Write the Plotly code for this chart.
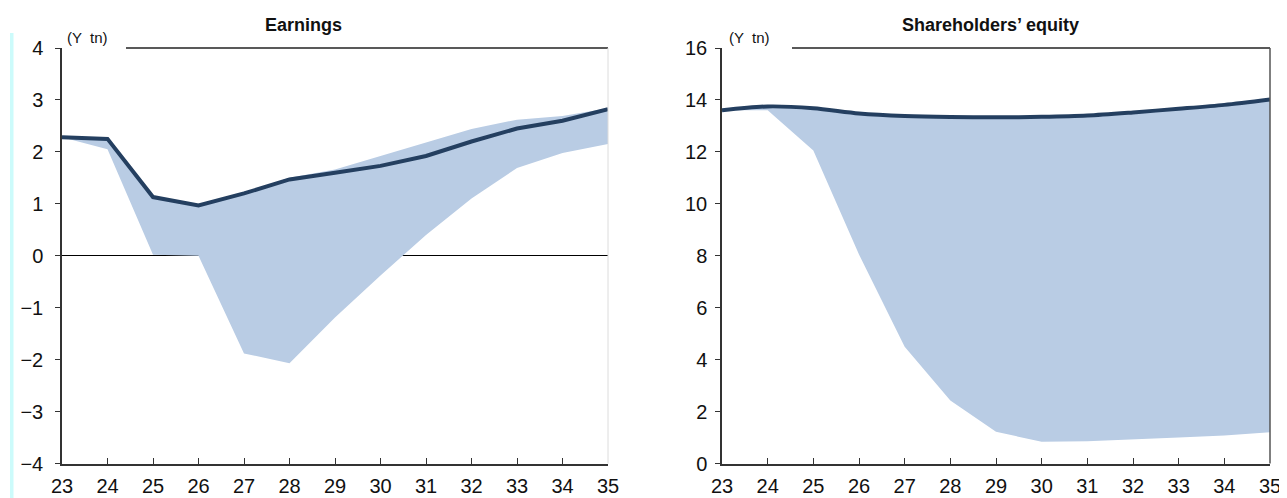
import plotly.graph_objects as go

years = list(range(2023, 2036))
year_labels = ["23", "24", "25", "26", "27", "28", "29", "30", "31", "32", "33", "34", "35"]

# Earnings (Y tn)
earn_central = [2.28, 2.25, 1.13, 0.97, 1.20, 1.47, 1.60, 1.73, 1.92, 2.20, 2.45, 2.60, 2.82]
earn_upper   = [2.30, 2.27, 1.15, 0.99, 1.22, 1.50, 1.66, 1.92, 2.17, 2.44, 2.62, 2.69, 2.84]
earn_lower   = [2.28, 2.05, 0.02, 0.00, -1.88, -2.07, -1.19, -0.38, 0.40, 1.10, 1.69, 1.98, 2.15]

# Shareholders' equity (Y tn)
eq_central = [13.60, 13.75, 13.68, 13.48, 13.38, 13.34, 13.33, 13.35, 13.40, 13.52, 13.66, 13.81, 14.02]
eq_lower   = [13.60, 13.60, 12.05, 8.05, 4.50, 2.43, 1.22, 0.84, 0.86, 0.92, 1.00, 1.08, 1.20]

earn_yticks = [4, 3, 2, 1, 0, -1, -2, -3, -4]
earn_yticklabels = ["4", "3", "2", "1", "0", "−1", "−2", "−3", "−4"]
eq_yticks = [0, 2, 4, 6, 8, 10, 12, 14, 16]

FILL = "#b9cce4"
LINE = "#243f60"
TICKFONT = dict(family="Liberation Sans Narrow, Liberation Sans, Arial, sans-serif", size=20, color="#111111")

W, H = 1287, 498
OFF = 8  # page body margin

def px(x):
    return (x - OFF) / W
def py(y):
    return 1 - (y - OFF) / H

fig = go.Figure()

# Earnings band
fig.add_trace(go.Scatter(x=years, y=earn_lower, mode="lines", line=dict(width=0, color=FILL),
                         hoverinfo="skip", showlegend=False, xaxis="x", yaxis="y"))
fig.add_trace(go.Scatter(x=years, y=earn_upper, mode="lines", line=dict(width=0, color=FILL),
                         fill="tonexty", fillcolor=FILL, hoverinfo="skip", showlegend=False,
                         xaxis="x", yaxis="y"))
fig.add_trace(go.Scatter(x=years, y=earn_central, mode="lines", line=dict(width=4, color=LINE),
                         showlegend=False, xaxis="x", yaxis="y"))

# Equity band
fig.add_trace(go.Scatter(x=years, y=eq_lower, mode="lines", line=dict(width=0, color=FILL),
                         hoverinfo="skip", showlegend=False, xaxis="x2", yaxis="y2"))
fig.add_trace(go.Scatter(x=years, y=eq_central, mode="lines", line=dict(width=0, color=FILL, shape="spline", smoothing=0.8),
                         fill="tonexty", fillcolor=FILL, hoverinfo="skip", showlegend=False,
                         xaxis="x2", yaxis="y2"))
fig.add_trace(go.Scatter(x=years, y=eq_central, mode="lines",
                         line=dict(width=4, color=LINE, shape="spline", smoothing=0.8),
                         showlegend=False, xaxis="x2", yaxis="y2"))

ydom = [py(463.5), py(48)]
xaxis_common = dict(
    range=[2023, 2035], tickmode="array", tickvals=years, ticktext=year_labels,
    ticks="inside", ticklen=6, tickcolor="#333333", tickwidth=1.2,
    showline=True, linecolor="#333333", linewidth=1.5, showgrid=False, zeroline=False,
    tickfont=TICKFONT, fixedrange=True, automargin=False, ticklabelstandoff=4,
)
fig.update_layout(
    width=W, height=H,
    margin=dict(l=0, r=0, t=0, b=0, pad=0),
    plot_bgcolor="white", paper_bgcolor="white",
    font=dict(family="Liberation Sans, Arial, sans-serif", color="#111111"),
    xaxis=dict(domain=[px(62), px(608)], anchor="y", **xaxis_common),
    xaxis2=dict(domain=[px(722), px(1270)], anchor="y2", **xaxis_common),
    yaxis=dict(domain=ydom, anchor="x", range=[-4, 4], tickmode="array",
               tickvals=earn_yticks, ticktext=earn_yticklabels,
               ticks="outside", ticklen=5, tickcolor="#333333", tickwidth=1.2,
               showline=True, linecolor="#333333", linewidth=1.5, showgrid=False,
               zeroline=True, zerolinecolor="#000000", zerolinewidth=1,
               tickfont=TICKFONT, ticklabelstandoff=8, automargin=False, fixedrange=True),
    yaxis2=dict(domain=ydom, anchor="x2", range=[0, 16], tickmode="array",
                tickvals=eq_yticks, ticks="outside", ticklen=5, tickcolor="#333333", tickwidth=1.2,
                showline=True, linecolor="#333333", linewidth=1.5, showgrid=False, zeroline=False,
                tickfont=TICKFONT, ticklabelstandoff=4, automargin=False, fixedrange=True),
)

shapes = [
    # cyan bar on far left
    dict(type="rect", xref="paper", yref="paper", x0=px(10), x1=px(13.5), y0=0, y1=py(33),
         fillcolor="#ccfbfb", line=dict(width=0), layer="below"),
    # left chart top line and right border
    dict(type="line", xref="paper", yref="paper", x0=px(126), x1=px(608), y0=py(48), y1=py(48),
         line=dict(color="#222222", width=1.5)),
    dict(type="line", xref="paper", yref="paper", x0=px(608), x1=px(608), y0=py(48), y1=py(463.5),
         line=dict(color="#dcdcdc", width=1)),
    # right chart top line and right border
    dict(type="line", xref="paper", yref="paper", x0=px(792), x1=px(1270), y0=py(48), y1=py(48),
         line=dict(color="#222222", width=1.5)),
    dict(type="line", xref="paper", yref="paper", x0=px(1270), x1=px(1270), y0=py(48), y1=py(463.5),
         line=dict(color="#555555", width=1.5)),
]
fig.update_layout(shapes=shapes)

annotations = [
    dict(text="<b>Earnings</b>", xref="paper", yref="paper", x=px(303), y=py(25),
         xanchor="center", yanchor="middle", showarrow=False,
         font=dict(size=18, family="Liberation Sans, Arial, sans-serif", color="#111111")),
    dict(text="<b>Shareholders’ equity</b>", xref="paper", yref="paper", x=px(990), y=py(25),
         xanchor="center", yanchor="middle", showarrow=False,
         font=dict(size=18, family="Liberation Sans, Arial, sans-serif", color="#111111")),
    dict(text="(Y  tn)", xref="paper", yref="paper", x=px(65), y=py(37),
         xanchor="left", yanchor="middle", showarrow=False,
         font=dict(size=15, family="Liberation Sans, Arial, sans-serif", color="#111111")),
    dict(text="(Y  tn)", xref="paper", yref="paper", x=px(727), y=py(38),
         xanchor="left", yanchor="middle", showarrow=False,
         font=dict(size=15, family="Liberation Sans, Arial, sans-serif", color="#111111")),
]
fig.update_layout(annotations=annotations)

fig.write_html("out.html")
